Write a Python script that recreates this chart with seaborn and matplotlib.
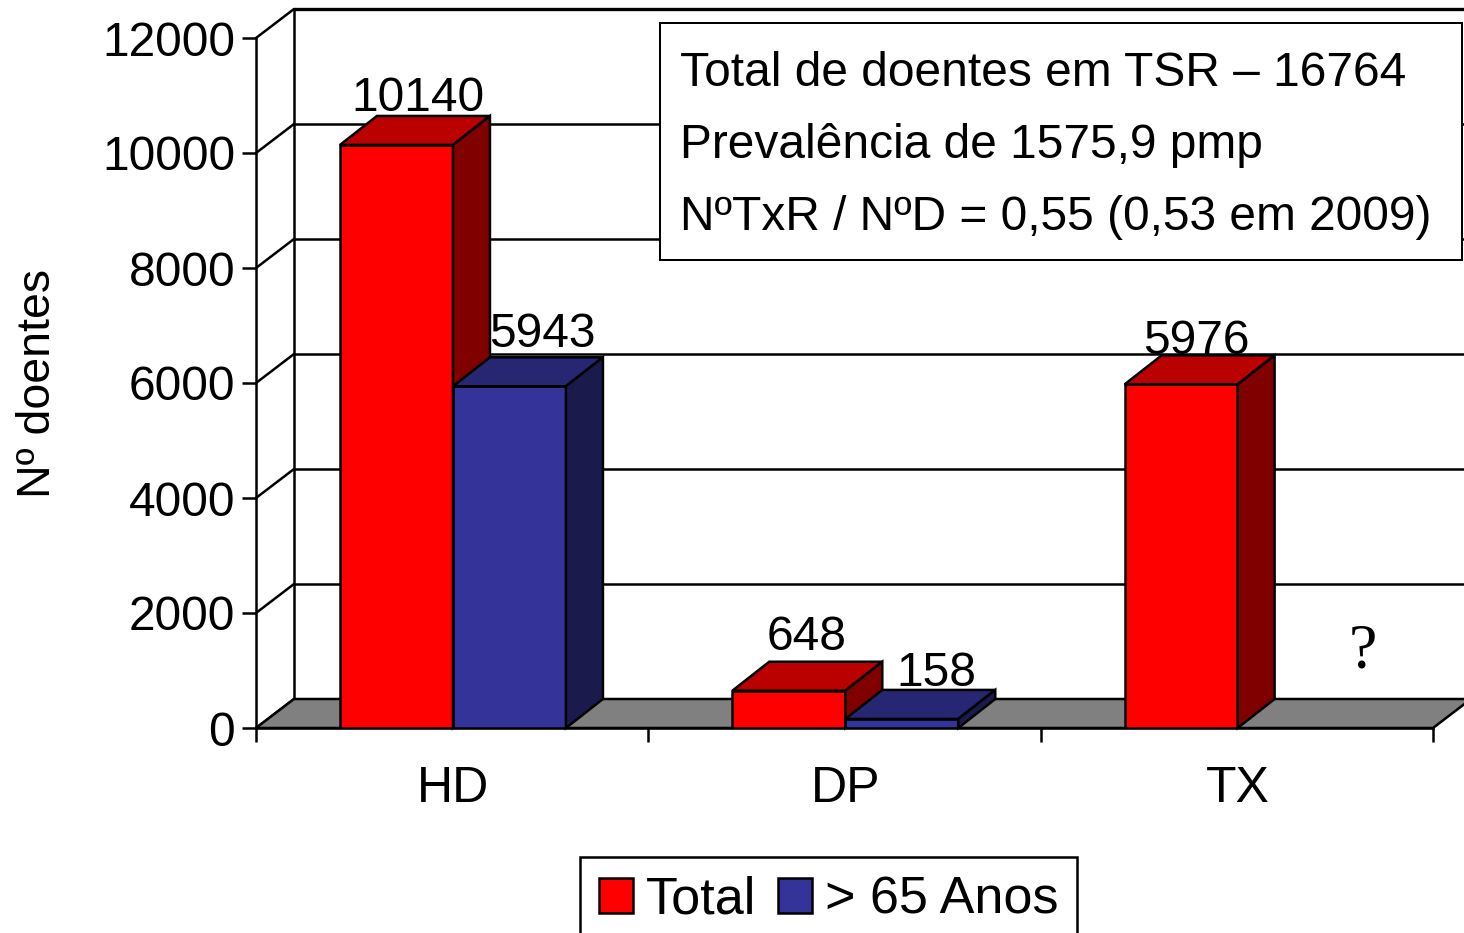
import matplotlib
matplotlib.use("Agg")
from matplotlib import pyplot as plt
from matplotlib.patches import Polygon, Rectangle
from matplotlib.transforms import IdentityTransform
import numpy as np
import pandas as pd
import seaborn as sns

categories = ["HD", "DP", "TX"]
total = [10140, 648, 5976]
over_65 = [5943, 158, np.nan]
series_names = ["Total", "> 65 Anos"]
y_ticks = [0, 2000, 4000, 6000, 8000, 10000, 12000]
info_lines = [
    "Total de doentes em TSR – 16764",
    "Prevalência de 1575,9 pmp",
    "NºTxR / NºD = 0,55 (0,53 em 2009)",
]

W, H = 1464, 933
DX, DY = 38, 29  # depth of the fake 3d, pixels
FS = 34.5
LW = 1.8
shades = {"red": ("#FF0000", "#BB0000", "#800000"), "blue": ("#333399", "#262673", "#1A1A4D")}

sns.set_theme(style="white")
plt.rcParams["font.family"] = ["Liberation Sans", "DejaVu Sans"]
plt.rcParams["font.size"] = FS
plt.rcParams["text.color"] = "black"
plt.rcParams["axes.labelcolor"] = "black"
plt.rcParams["xtick.labelcolor"] = "black"
plt.rcParams["ytick.labelcolor"] = "black"

df = pd.DataFrame({"cat": categories * 2,
                   "value": total + over_65,
                   "serie": [series_names[0]] * 3 + [series_names[1]] * 3})

fig = plt.figure(figsize=(W / 100, H / 100), dpi=100)
ax = fig.add_axes([256 / W, (H - 728) / H, (1433 - 256) / W, (728 - 38) / H])
sns.barplot(data=df, x="cat", y="value", hue="serie", hue_order=series_names,
            palette=[shades["red"][0], shades["blue"][0]], width=0.576, saturation=1,
            edgecolor="black", linewidth=LW, ax=ax, zorder=5)

ax.set_ylim(0, 12000)
ax.set_xlim(-0.502, 2.498)
ax.set_xlabel("")
ax.set_ylabel("Nº doentes", fontsize=33.5, labelpad=30)
ax.set_yticks(y_ticks)
ax.set_xticks(range(3))
ax.set_xticks(np.arange(4) + ax.get_xlim()[0], minor=True)
ax.tick_params(axis="y", which="major", left=True, length=10, width=LW, pad=5, labelsize=FS, color="black")
ax.tick_params(axis="x", which="major", bottom=False, length=0, pad=27, labelsize=36)
ax.tick_params(axis="x", which="minor", bottom=True, length=10, width=LW, color="black")
for name, sp in ax.spines.items():
    sp.set_visible(name in ("left", "bottom"))
    sp.set_color("black")
    sp.set_linewidth(LW)
ax.patch.set_alpha(0)


def disp(x, y):
    return ax.transData.transform((x, y))


def add_poly(pts, color, z):
    ax.add_patch(Polygon(pts, closed=True, facecolor=color, edgecolor="black", linewidth=LW,
                         transform=IdentityTransform(), clip_on=False, zorder=z))


def add_line(p0, p1, z=1, lw=LW):
    ax.add_line(plt.Line2D([p0[0], p1[0]], [p0[1], p1[1]], color="black", linewidth=lw,
                           transform=IdentityTransform(), clip_on=False, zorder=z))


# walls and floor
x_left, x_right = ax.get_xlim()
off = np.array([DX, DY])
bar_off = np.array([DX - 1, DY])
for t in y_ticks:
    p = disp(x_left, t)
    add_line(p, p + off)
    if t > 0:
        add_line(p + off, (W + 5, p[1] + DY), lw=LW + 0.6 if t == y_ticks[-1] else LW)
add_line(disp(x_left, 0) + off, disp(x_left, y_ticks[-1]) + off)
fl0, fl1 = disp(x_left, 0), disp(x_right, 0)
add_poly([fl0, fl1, fl1 + off, fl0 + off], "#808080", 1.5)

# bar sides and tops, left to right so later bars sit over earlier ones
label_dx = [21, 33, 18, 35, 15]
label_dy = [5, 10, 12, 4, 1]
bars = sorted([b for b in ax.patches if isinstance(b, Rectangle) and b.get_height() > 0],
              key=lambda b: b.get_x())
for i, b in enumerate(bars):
    key = "red" if b.get_facecolor()[0] == 1 else "blue"
    z = 5 + i * 0.1
    b.set_zorder(z)
    x0, x1, h = b.get_x(), b.get_x() + b.get_width(), b.get_height()
    tl, tr, br = disp(x0, h), disp(x1, h), disp(x1, 0)
    add_poly([tl, tr, tr + bar_off, tl + bar_off], shades[key][1], z)
    add_poly([br, tr, tr + bar_off, br + bar_off], shades[key][2], z)
    ax.annotate(f"{h:.0f}", xy=((x0 + x1) / 2, h), xytext=(label_dx[i] * 0.72, (DY + label_dy[i]) * 0.72),
                textcoords="offset points", ha="center", va="baseline", fontsize=FS, color="black",
                annotation_clip=False, zorder=20)

# missing value for TX
fig.text(1363 / W, (H - 668) / H, "?", family="Liberation Serif", fontsize=46, ha="center", va="baseline", color="black")

# info box
fig.add_artist(Rectangle((660, H - 260), 802, 237, facecolor="white", edgecolor="black", linewidth=LW * 0.8,
                         transform=IdentityTransform(), zorder=30))
for line, ypix in zip(info_lines, [86, 158, 230]):
    fig.text(680 / W, (H - ypix) / H, line, fontsize=FS, va="baseline", ha="left", color="black", zorder=31)

leg = ax.legend(ncol=2, loc="upper left", bbox_to_anchor=(580 / W, (H - 857) / H), bbox_transform=fig.transFigure,
                frameon=True, fancybox=False, edgecolor="black", framealpha=1, fontsize=37.5, title=None,
                handlelength=0.65, handleheight=0.65, handletextpad=0.25, columnspacing=0.42,
                borderpad=0.36, borderaxespad=0)
leg.get_frame().set_linewidth(LW)
leg.set_zorder(30)

fig.savefig("out.png", dpi=100)
